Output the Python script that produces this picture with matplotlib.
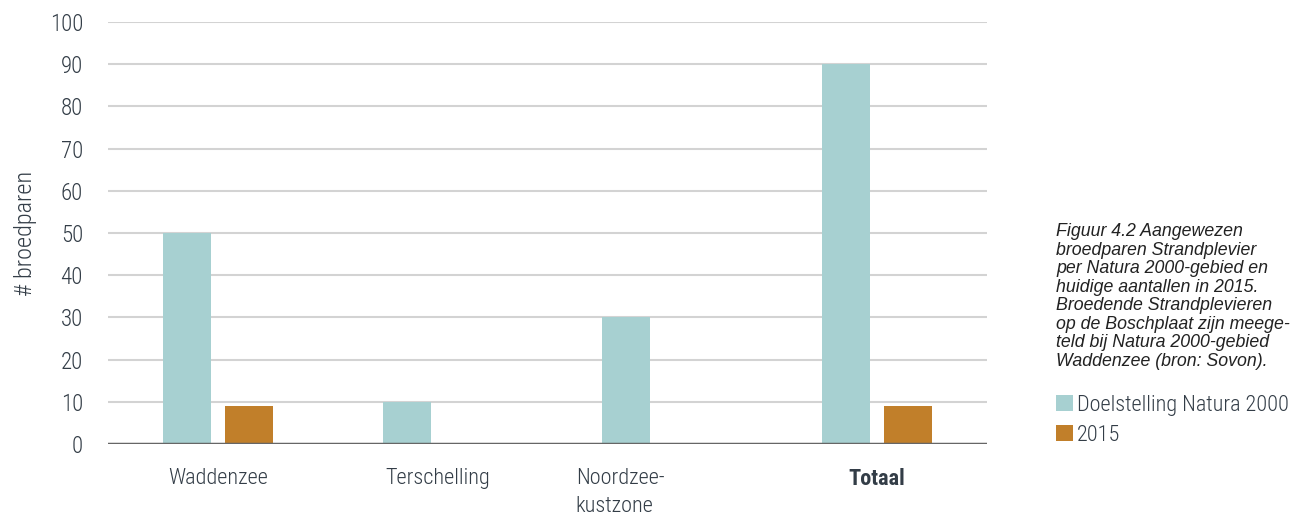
import numpy as np
import matplotlib.pyplot as plt

categories = ['Waddenzee', 'Terschelling', 'Noordzee-\nkustzone', 'Totaal']
doel = [50, 10, 30, 90]
aantal_2015 = [9, 0, 0, 9]
series_names = ['Doelstelling Natura 2000', '2015']
yticks = [0, 10, 20, 30, 40, 50, 60, 70, 80, 90, 100]

caption = ('Figuur 4.2 Aangewezen\n'
           'broedparen Strandplevier\n'
           'per Natura 2000-gebied en\n'
           'huidige aantallen in 2015.\n'
           'Broedende Strandplevieren\n'
           'op de Boschplaat zijn meege-\n'
           'teld bij Natura 2000-gebied\n'
           'Waddenzee (bron: Sovon).')

teal = '#a7d0d1'
orange = '#c17f2a'
txt = '#333d47'
narrow = ['Roboto Condensed', 'DejaVu Sans']

fig = plt.figure(figsize=(12.96, 5.17), dpi=100)
ax = fig.add_axes([0.0833, 0.1412, 0.6783, 0.8162])

x = np.arange(len(categories))
w = 0.218
off = 0.141
b1 = ax.bar(x - off, doel, w, color=teal, zorder=3)
b2 = ax.bar(x + off, aantal_2015, w, color=orange, zorder=3)

ax.set_xlim(-0.5, len(categories) - 0.5)
ax.set_ylim(0, 100)
ax.set_yticks(yticks)
ax.yaxis.grid(True, color='#d3d3d3', linewidth=1.5, zorder=0)
ax.axhline(0, color='#666666', linewidth=2.5, zorder=4)
for s in ax.spines.values():
    s.set_visible(False)
ax.tick_params(axis='y', length=0, pad=18, labelsize=16.5, labelcolor=txt)
for lab in ax.get_yticklabels():
    lab.set_family(narrow)
    lab.set_fontweight('light')

ax.set_xticks(x)
ax.set_xticklabels([])
ax.tick_params(axis='x', length=0)
for i, c in enumerate(categories):
    xi = i - 0.17 if '\n' in c else i
    ax.text(xi, -5.6, c, ha='center', va='top', fontsize=16, color=txt,
            family=narrow, fontweight='bold' if c == 'Totaal' else 'light',
            multialignment='left', linespacing=1.45)

ax.set_ylabel('# broedparen', fontsize=17.5, color=txt, family=narrow,
              fontweight='light', labelpad=9)

fig.text(0.8148, 0.5687, caption, ha='left', va='top', fontsize=12.8,
         style='italic', color='#222222', family=['Liberation Sans', 'DejaVu Sans'],
         linespacing=1.12)

fig.legend([b1, b2], series_names, loc='upper left', bbox_to_anchor=(0.8148, 0.236),
           frameon=False, handlelength=0.75, handleheight=0.75, handletextpad=0.2,
           labelspacing=0.4, borderaxespad=0, borderpad=0,
           prop={'family': narrow, 'size': 16, 'weight': 'light'}, labelcolor=txt)

fig.savefig('out.png', dpi=100)
